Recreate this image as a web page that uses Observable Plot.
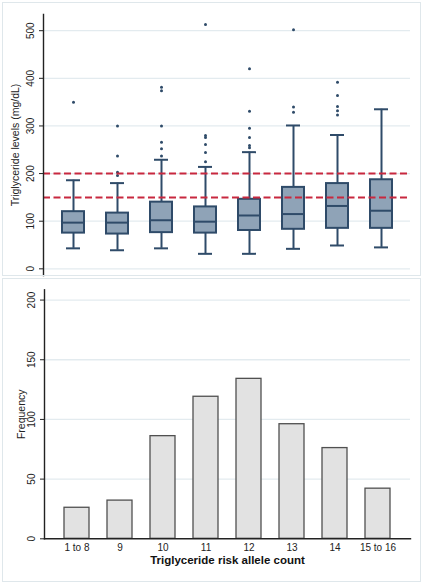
<!DOCTYPE html>
<html><head><meta charset="utf-8">
<script src="https://cdn.jsdelivr.net/npm/d3@7"></script>
<script src="https://cdn.jsdelivr.net/npm/@observablehq/plot@0.6"></script>
<style>
html,body{margin:0;padding:0;background:#fff;}
#chart{position:relative;width:425px;height:582px;font-family:"Liberation Sans",Arial,sans-serif;}
#chart svg{position:absolute;left:0;}
.panel{position:absolute;box-sizing:border-box;border:1px solid #dfe7eb;pointer-events:none;}
</style></head><body>
<div id="chart"></div>
<script>
// ---- data ----
const categories = ["1 to 8", "9", "10", "11", "12", "13", "14", "15 to 16"];
const whiskerLow  = [43, 39, 43, 31.5, 31.5, 42, 49, 45];
const q1          = [75, 73, 76, 75, 80.5, 83, 85, 85];
const medians     = [97, 97, 102, 99, 112, 115, 132, 122];
const q3          = [120, 117, 140, 130, 146, 171, 179, 187];
const whiskerHigh = [186, 180, 229, 214, 245, 301, 281, 335];
const outliers = [
  [350],
  [300, 237, 203, 196],
  [381, 374, 300, 266, 252, 237],
  [513, 280, 276, 261, 244, 225],
  [420, 331, 295, 276, 259, 254],
  [502, 340, 329],
  [392, 364, 341, 332, 323],
  []
];
const frequency = [26, 32, 86, 119, 134, 96, 76, 42];
const refLines = [150, 200];
const tgTicks = [0, 100, 200, 300, 400, 500];
const freqTicks = [0, 50, 100, 150, 200];
const topLabel = "Triglyceride levels (mg/dL)";
const freqLabel = "Frequency";
const xLabel = "Triglyceride risk allele count";

// ---- tables ----
const boxData = categories.map((c, i) => ({cat: c, lo: whiskerLow[i], q1: q1[i], med: medians[i], q3: q3[i], hi: whiskerHigh[i]}));
const outlierData = categories.flatMap((c, i) => outliers[i].map(v => ({cat: c, v})));
const freqData = categories.map((c, i) => ({cat: c, n: frequency[i]}));

const font = "'Liberation Sans', Arial, sans-serif";
const boxFill = "#8fa3b7", boxStroke = "#2f4b69", gridColor = "#e3ebef", axisColor = "#222";

const topPlot = Plot.plot({
  width: 425, height: 277,
  marginTop: 14, marginBottom: 2, marginLeft: 43, marginRight: 15,
  style: {fontFamily: font, fontSize: "10px", background: "transparent", overflow: "visible", color: "#222"},
  x: {domain: categories, paddingInner: 0.5, paddingOuter: 0.35, axis: null},
  y: {domain: [-14, 534]},
  marks: [
    Plot.ruleY(tgTicks, {stroke: gridColor, strokeWidth: 1.3}),
    Plot.ruleX(boxData, {x: "cat", y1: "lo", y2: "q1", stroke: boxStroke, strokeWidth: 2}),
    Plot.ruleX(boxData, {x: "cat", y1: "q3", y2: "hi", stroke: boxStroke, strokeWidth: 2}),
    Plot.tickY(boxData, {x: "cat", y: "lo", stroke: boxStroke, strokeWidth: 2, insetLeft: 4, insetRight: 4}),
    Plot.tickY(boxData, {x: "cat", y: "hi", stroke: boxStroke, strokeWidth: 2, insetLeft: 4, insetRight: 4}),
    Plot.barY(boxData, {x: "cat", y1: "q1", y2: "q3", fill: boxFill, stroke: boxStroke, strokeWidth: 2}),
    Plot.tickY(boxData, {x: "cat", y: "med", stroke: boxStroke, strokeWidth: 2}),
    Plot.dot(outlierData, {x: "cat", y: "v", r: 1.5, fill: boxStroke, stroke: "none"}),
    Plot.ruleY(refLines, {stroke: "#c8283f", strokeWidth: 2, strokeDasharray: "7,3.5"}),
    Plot.axisY(tgTicks, {tickSize: 4, fill: "none", stroke: axisColor}),
    Plot.text(tgTicks, {y: d => d, text: d => String(d), frameAnchor: "left", rotate: -90, dx: -13, textAnchor: "middle", fill: "#222", fontSize: 10}),
    Plot.text([topLabel], {text: d => d, frameAnchor: "left", rotate: -90, dx: -27.5, textAnchor: "middle", fill: "#222", fontSize: 10.5}),
    Plot.frame({anchor: "left", stroke: axisColor, strokeWidth: 1.4})
  ]
});

const bottomPlot = Plot.plot({
  width: 425, height: 305,
  marginTop: 12.3, marginBottom: 43.7, marginLeft: 44, marginRight: 15,
  style: {fontFamily: font, fontSize: "10px", background: "transparent", overflow: "visible", color: "#222"},
  x: {domain: categories, paddingInner: 0.41, paddingOuter: 0.375},
  y: {domain: [0, 208.6]},
  marks: [
    Plot.ruleY(freqTicks.filter(d => d > 0), {stroke: gridColor, strokeWidth: 1.3}),
    Plot.barY(freqData, {x: "cat", y: "n", fill: "#e2e2e2", stroke: "#505050", strokeWidth: 1.3}),
    Plot.axisY(freqTicks, {tickSize: 4, fill: "none", stroke: axisColor}),
    Plot.text(freqTicks, {y: d => d, text: d => String(d), frameAnchor: "left", rotate: -90, dx: -13, textAnchor: "middle", fill: "#222", fontSize: 10}),
    Plot.axisX({tickSize: 0, tickPadding: 5, label: null, fontSize: 10, fill: "#222"}),
    Plot.text([freqLabel], {text: d => d, frameAnchor: "left", rotate: -90, dx: -22.5, textAnchor: "middle", fill: "#222", fontSize: 10.5}),
    Plot.text([xLabel], {text: d => d, frameAnchor: "bottom", dy: 25, fill: "#111", fontSize: 11.5, fontWeight: "bold"}),
    Plot.frame({anchor: "left", stroke: axisColor, strokeWidth: 1.4}),
    Plot.frame({anchor: "bottom", stroke: axisColor, strokeWidth: 1.4})
  ]
});

const chart = document.getElementById("chart");
topPlot.style.top = "0px";
bottomPlot.style.top = "277px";
chart.appendChild(topPlot);
chart.appendChild(bottomPlot);
const p1 = document.createElement("div");
p1.className = "panel";
Object.assign(p1.style, {left: "2px", top: "2px", width: "419px", height: "274px"});
const p2 = document.createElement("div");
p2.className = "panel";
Object.assign(p2.style, {left: "2px", top: "278px", width: "419px", height: "304px"});
chart.appendChild(p1);
chart.appendChild(p2);
</script>
</body></html>
